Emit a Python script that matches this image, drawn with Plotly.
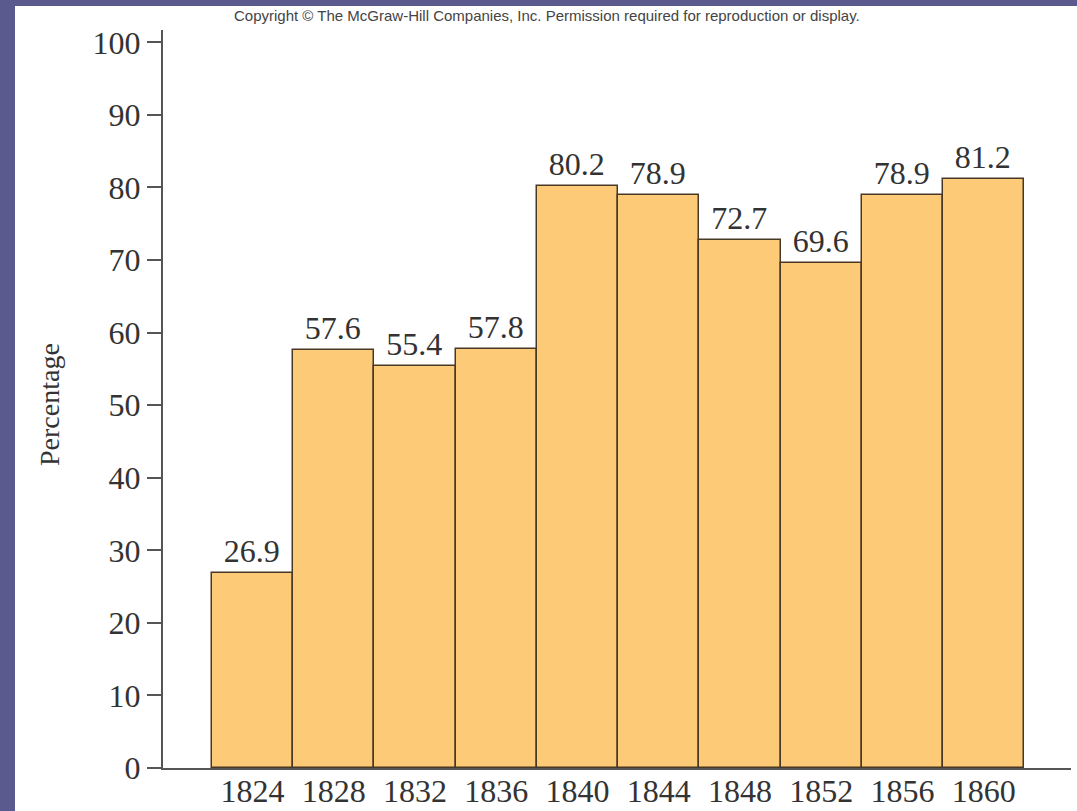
import plotly.graph_objects as go

years = [1824, 1828, 1832, 1836, 1840, 1844, 1848, 1852, 1856, 1860]
percentages = [26.9, 57.6, 55.4, 57.8, 80.2, 78.9, 72.7, 69.6, 78.9, 81.2]
labels = [f"{v:.1f}" for v in percentages]
y_ticks = [0, 10, 20, 30, 40, 50, 60, 70, 80, 90, 100]

W, H = 1077, 811
L, R, T, B = 163, 6, 30, 43
pw, ph = W - L - R, H - T - B

serif = "Liberation Serif, Times New Roman, serif"
band = "#5b5a8f"

fig = go.Figure(go.Bar(
    x=years, y=percentages, width=4,
    marker=dict(color="#fdcb77", line=dict(color="#4a3826", width=1.5)),
    text=labels, textposition="outside", cliponaxis=False,
    textfont=dict(family=serif, size=32, color="#333333"),
))

fig.update_layout(
    width=W, height=H, autosize=False,
    margin=dict(l=L, r=R, t=T, b=B, pad=0, autoexpand=False),
    paper_bgcolor="white", plot_bgcolor="white",
    showlegend=False, bargap=0,
    font=dict(family=serif, color="#333333"),
    xaxis=dict(
        range=[1819.6, 1864.3], tickmode="array", tickvals=years,
        ticktext=[str(y) for y in years], showgrid=False, zeroline=False,
        showline=True, linecolor="#555555", linewidth=2, ticks="",
        automargin=False, ticklabelstandoff=-6,
        tickfont=dict(family=serif, size=32, color="#333333"),
    ),
    yaxis=dict(
        range=[0, 101.7], tickmode="array", tickvals=y_ticks,
        showgrid=False, zeroline=False, automargin=False,
        showline=True, linecolor="#555555", linewidth=2,
        ticks="outside", ticklen=14, tickwidth=2, tickcolor="#555555",
        tickfont=dict(family=serif, size=32, color="#333333"),
    ),
    shapes=[
        dict(type="rect", xref="paper", yref="paper",
             x0=-L / pw - 0.01, x1=(15 - L) / pw, y0=-0.2, y1=1.2,
             fillcolor=band, line=dict(width=0)),
        dict(type="rect", xref="paper", yref="paper",
             x0=-0.3, x1=1.1, y0=(H - B - 6) / ph, y1=1.2,
             fillcolor=band, line=dict(width=0)),
    ],
    annotations=[
        dict(text="Percentage", textangle=-90, xref="paper", yref="paper",
             x=(50 - L) / pw, y=(H - B - 405) / ph, showarrow=False,
             xanchor="center", yanchor="middle",
             font=dict(family=serif, size=28, color="#333333")),
        dict(text="Copyright © The McGraw-Hill Companies, Inc. Permission required for reproduction or display.",
             xref="paper", yref="paper", x=(547 - L) / pw, y=(H - B - 15) / ph,
             showarrow=False, xanchor="center", yanchor="middle",
             font=dict(family="Liberation Sans, Arial, sans-serif", size=15, color="#444444")),
    ],
)

fig.write_html("out.html", config={"displayModeBar": False},
               post_script="document.body.style.margin='0';document.body.style.overflow='hidden';")
